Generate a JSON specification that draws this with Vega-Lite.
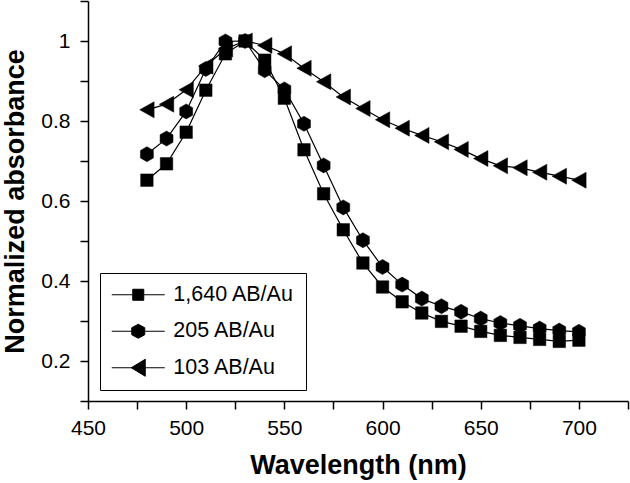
{
  "$schema": "https://vega.github.io/schema/vega-lite/v6.json",
  "width": 540,
  "height": 400,
  "autosize": {"type": "none"},
  "padding": {"left": 88, "top": 1, "right": 2, "bottom": 82},
  "background": "white",
  "config": {
    "view": {"stroke": null},
    "axis": {
      "domainColor": "black",
      "domainWidth": 1.5,
      "tickColor": "black",
      "tickWidth": 1.5,
      "tickSize": 8,
      "labelColor": "black",
      "titleColor": "black",
      "labelFont": "Liberation Sans",
      "titleFont": "Liberation Sans",
      "labelFontSize": 21,
      "titleFontSize": 27,
      "titleFontWeight": "bold",
      "grid": false,
      "labelOverlap": false,
      "labelFlush": false
    },
    "legend": {
      "labelFont": "Liberation Sans",
      "labelFontSize": 21.5,
      "labelColor": "black"
    }
  },
  "data": {
    "values": [
      {"wl": 480, "abs": 0.652, "series": "1,640 AB/Au"},
      {"wl": 490, "abs": 0.693, "series": "1,640 AB/Au"},
      {"wl": 500, "abs": 0.772, "series": "1,640 AB/Au"},
      {"wl": 510, "abs": 0.877, "series": "1,640 AB/Au"},
      {"wl": 520, "abs": 0.968, "series": "1,640 AB/Au"},
      {"wl": 530, "abs": 1.0, "series": "1,640 AB/Au"},
      {"wl": 540, "abs": 0.952, "series": "1,640 AB/Au"},
      {"wl": 550, "abs": 0.857, "series": "1,640 AB/Au"},
      {"wl": 560, "abs": 0.728, "series": "1,640 AB/Au"},
      {"wl": 570, "abs": 0.618, "series": "1,640 AB/Au"},
      {"wl": 580, "abs": 0.528, "series": "1,640 AB/Au"},
      {"wl": 590, "abs": 0.445, "series": "1,640 AB/Au"},
      {"wl": 600, "abs": 0.385, "series": "1,640 AB/Au"},
      {"wl": 610, "abs": 0.348, "series": "1,640 AB/Au"},
      {"wl": 620, "abs": 0.32, "series": "1,640 AB/Au"},
      {"wl": 630, "abs": 0.299, "series": "1,640 AB/Au"},
      {"wl": 640, "abs": 0.287, "series": "1,640 AB/Au"},
      {"wl": 650, "abs": 0.274, "series": "1,640 AB/Au"},
      {"wl": 660, "abs": 0.264, "series": "1,640 AB/Au"},
      {"wl": 670, "abs": 0.259, "series": "1,640 AB/Au"},
      {"wl": 680, "abs": 0.254, "series": "1,640 AB/Au"},
      {"wl": 690, "abs": 0.249, "series": "1,640 AB/Au"},
      {"wl": 700, "abs": 0.252, "series": "1,640 AB/Au"},
      {"wl": 480, "abs": 0.717, "series": "205 AB/Au"},
      {"wl": 490, "abs": 0.756, "series": "205 AB/Au"},
      {"wl": 500, "abs": 0.824, "series": "205 AB/Au"},
      {"wl": 510, "abs": 0.93, "series": "205 AB/Au"},
      {"wl": 520, "abs": 0.999, "series": "205 AB/Au"},
      {"wl": 530, "abs": 1.0, "series": "205 AB/Au"},
      {"wl": 540, "abs": 0.927, "series": "205 AB/Au"},
      {"wl": 550, "abs": 0.879, "series": "205 AB/Au"},
      {"wl": 560, "abs": 0.793, "series": "205 AB/Au"},
      {"wl": 570, "abs": 0.689, "series": "205 AB/Au"},
      {"wl": 580, "abs": 0.584, "series": "205 AB/Au"},
      {"wl": 590, "abs": 0.502, "series": "205 AB/Au"},
      {"wl": 600, "abs": 0.435, "series": "205 AB/Au"},
      {"wl": 610, "abs": 0.391, "series": "205 AB/Au"},
      {"wl": 620, "abs": 0.356, "series": "205 AB/Au"},
      {"wl": 630, "abs": 0.337, "series": "205 AB/Au"},
      {"wl": 640, "abs": 0.323, "series": "205 AB/Au"},
      {"wl": 650, "abs": 0.306, "series": "205 AB/Au"},
      {"wl": 660, "abs": 0.295, "series": "205 AB/Au"},
      {"wl": 670, "abs": 0.288, "series": "205 AB/Au"},
      {"wl": 680, "abs": 0.281, "series": "205 AB/Au"},
      {"wl": 690, "abs": 0.276, "series": "205 AB/Au"},
      {"wl": 700, "abs": 0.273, "series": "205 AB/Au"},
      {"wl": 480, "abs": 0.828, "series": "103 AB/Au"},
      {"wl": 490, "abs": 0.842, "series": "103 AB/Au"},
      {"wl": 500, "abs": 0.878, "series": "103 AB/Au"},
      {"wl": 510, "abs": 0.937, "series": "103 AB/Au"},
      {"wl": 520, "abs": 0.98, "series": "103 AB/Au"},
      {"wl": 530, "abs": 1.0, "series": "103 AB/Au"},
      {"wl": 540, "abs": 0.989, "series": "103 AB/Au"},
      {"wl": 550, "abs": 0.968, "series": "103 AB/Au"},
      {"wl": 560, "abs": 0.932, "series": "103 AB/Au"},
      {"wl": 570, "abs": 0.898, "series": "103 AB/Au"},
      {"wl": 580, "abs": 0.86, "series": "103 AB/Au"},
      {"wl": 590, "abs": 0.831, "series": "103 AB/Au"},
      {"wl": 600, "abs": 0.803, "series": "103 AB/Au"},
      {"wl": 610, "abs": 0.782, "series": "103 AB/Au"},
      {"wl": 620, "abs": 0.764, "series": "103 AB/Au"},
      {"wl": 630, "abs": 0.748, "series": "103 AB/Au"},
      {"wl": 640, "abs": 0.729, "series": "103 AB/Au"},
      {"wl": 650, "abs": 0.706, "series": "103 AB/Au"},
      {"wl": 660, "abs": 0.688, "series": "103 AB/Au"},
      {"wl": 670, "abs": 0.683, "series": "103 AB/Au"},
      {"wl": 680, "abs": 0.672, "series": "103 AB/Au"},
      {"wl": 690, "abs": 0.662, "series": "103 AB/Au"},
      {"wl": 700, "abs": 0.652, "series": "103 AB/Au"}
    ]
  },
  "encoding": {
    "x": {
      "field": "wl",
      "type": "quantitative",
      "scale": {"domain": [450, 725], "nice": false, "zero": false},
      "axis": {
        "title": "Wavelength (nm)",
        "values": [450, 475, 500, 525, 550, 575, 600, 625, 650, 675, 700, 725],
        "labelExpr": "(datum.value % 50 === 0 && datum.value <= 700) ? datum.label : ''",
        "labelPadding": 8,
        "titlePadding": 14
      }
    },
    "y": {
      "field": "abs",
      "type": "quantitative",
      "scale": {"domain": [0.1, 1.1], "nice": false, "zero": false},
      "axis": {
        "title": "Normalized absorbance",
        "values": [0.1, 0.2, 0.3, 0.4, 0.5, 0.6, 0.7, 0.8, 0.9, 1.0, 1.1],
        "format": "~g",
        "labelExpr": "(round(datum.value * 10) % 2 === 0 && datum.value > 0.15 && datum.value < 1.05) ? datum.label : ''",
        "labelPadding": 10,
        "titlePadding": 11
      }
    }
  },
  "layer": [
    {
      "mark": {"type": "line", "color": "black", "strokeWidth": 1.2},
      "encoding": {"detail": {"field": "series"}}
    },
    {
      "mark": {"type": "point", "filled": true, "color": "black", "size": 256, "stroke": "black", "strokeWidth": 0.5, "opacity": 1},
      "encoding": {
        "shape": {
          "field": "series",
          "type": "nominal",
          "scale": {
            "domain": ["1,640 AB/Au", "205 AB/Au", "103 AB/Au"],
            "range": [
              "M-0.78,-0.78H0.78V0.78H-0.78Z",
              "M0,-0.94L0.81,-0.47L0.81,0.47L0,0.94L-0.81,0.47L-0.81,-0.47Z",
              "M-0.9,0L0.9,-1L0.9,1Z"
            ]
          },
          "legend": null
        }
      }
    },
    {
      "transform": [{"filter": "false"}],
      "mark": {"type": "point", "filled": false, "fill": "black", "stroke": "black", "size": 400, "strokeWidth": 1, "opacity": 1},
      "encoding": {
        "shape": {
          "field": "series",
          "type": "nominal",
          "scale": {
            "domain": ["1,640 AB/Au", "205 AB/Au", "103 AB/Au"],
            "range": [
              "M-2.65,0H2.65M-0.55,-0.55H0.55V0.55H-0.55Z",
              "M-2.65,0H2.65M0,-0.7L0.65,-0.35L0.65,0.35L0,0.7L-0.65,0.35L-0.65,-0.35Z",
              "M-2.65,0H2.65M-0.7,0L0.7,-0.85L0.7,0.85Z"
            ]
          },
          "legend": {
            "title": null,
            "orient": "none",
            "legendX": 12,
            "legendY": 272,
            "direction": "vertical",
            "strokeColor": "black",
            "padding": 11,
            "rowPadding": 13.5,
            "symbolSize": 400,
            "symbolStrokeWidth": 1,
            "symbolFillColor": "black",
            "symbolOffset": 16.5,
            "labelOffset": 24.3,
            "labelFont": "Liberation Sans",
            "labelFontSize": 21.5,
            "labelColor": "black",
            "labelLimit": 0
          }
        }
      }
    }
  ],
  "resolve": {"scale": {"shape": "independent"}, "legend": {"shape": "independent"}}
}
